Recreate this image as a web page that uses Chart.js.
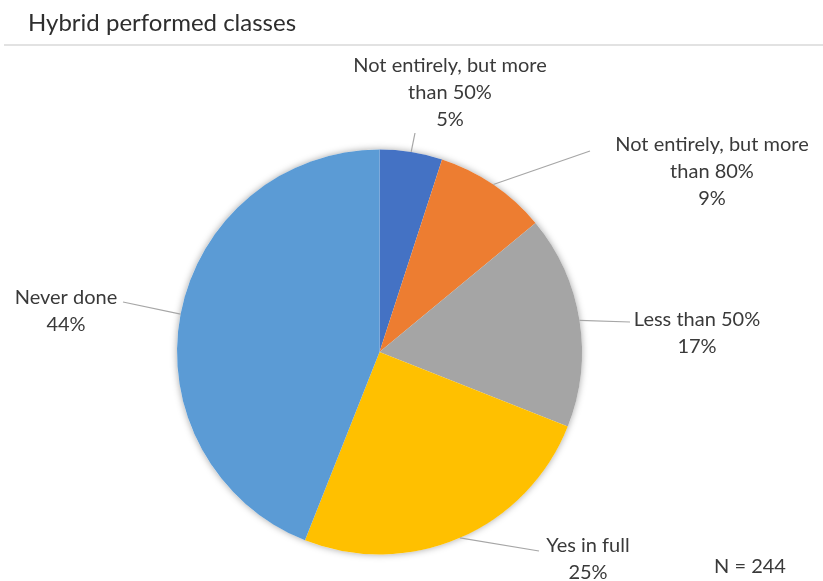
<!DOCTYPE html>
<html>
<head>
<meta charset="utf-8">
<script src="https://cdn.jsdelivr.net/npm/chart.js@4.4.0/dist/chart.umd.min.js"></script>
<style>
  html, body { margin: 0; padding: 0; background: #fff; }
  #wrap { width: 823px; height: 581px; position: relative; }
</style>
</head>
<body>
<div id="wrap"><canvas id="pie"></canvas></div>
<script>
const chartTitle = 'Hybrid performed classes';
const categories = [
    ['Not entirely, but more', 'than 50%'],
    ['Not entirely, but more', 'than 80%'],
    ['Less than 50%'],
    ['Yes in full'],
    ['Never done']
];
const shares = [5, 9, 17, 25, 44];
const sliceColors = ['#4472C4', '#ED7D31', '#A5A5A5', '#FFC000', '#5B9BD5'];
const sampleNote = 'N = 244';

const FONT = 'Lato, "Open Sans", sans-serif';
const TEXT = '#3a3a3a';

// where each label block sits and where its leader line stops
const labelSpots = [
    { x: 450, y: 66, lineTo: [415, 133] },
    { x: 712, y: 145, lineTo: [590, 151] },
    { x: 697, y: 320, lineTo: [630, 322] },
    { x: 588, y: 546, lineTo: [539, 551] },
    { x: 66, y: 298, lineTo: [123, 302] }
];

const decorations = {
    id: 'decorations',
    beforeDatasetsDraw(chart) {
        const ctx = chart.ctx;
        const arc = chart.getDatasetMeta(0).data[0];
        ctx.save();
        ctx.shadowColor = 'rgba(0,0,0,0.35)';
        ctx.shadowBlur = 7;
        ctx.fillStyle = '#fff';
        ctx.beginPath();
        ctx.arc(arc.x, arc.y, arc.outerRadius, 0, Math.PI * 2);
        ctx.fill();
        ctx.restore();
    },
    afterDraw(chart) {
        const ctx = chart.ctx;
        ctx.save();

        // title and rule underneath
        ctx.fillStyle = '#2e2e2e';
        ctx.font = '24px ' + FONT;
        ctx.textBaseline = 'middle';
        ctx.textAlign = 'left';
        ctx.fillText(chartTitle, 28, 23);
        ctx.strokeStyle = '#e2e2e2';
        ctx.lineWidth = 2;
        ctx.beginPath();
        ctx.moveTo(4, 45);
        ctx.lineTo(823, 45);
        ctx.stroke();

        const meta = chart.getDatasetMeta(0);
        meta.data.forEach((el, i) => {
            const spot = labelSpots[i];
            const mid = (el.startAngle + el.endAngle) / 2;
            const ex = el.x + Math.cos(mid) * el.outerRadius;
            const ey = el.y + Math.sin(mid) * el.outerRadius;

            ctx.strokeStyle = '#a6a6a6';
            ctx.lineWidth = 1.2;
            ctx.beginPath();
            ctx.moveTo(ex, ey);
            ctx.lineTo(spot.lineTo[0], spot.lineTo[1]);
            ctx.stroke();

            const lines = categories[i].concat([shares[i] + '%']);
            ctx.fillStyle = TEXT;
            ctx.font = '20px ' + FONT;
            ctx.textAlign = 'center';
            lines.forEach((t, k) => ctx.fillText(t, spot.x, spot.y + k * 27));
        });

        ctx.fillText(sampleNote, 750, 567);
        ctx.restore();
    }
};

new Chart(document.getElementById('pie'), {
    type: 'pie',
    data: {
        labels: categories.map(c => c.join(' ')),
        datasets: [{
            data: shares,
            backgroundColor: sliceColors,
            borderWidth: 0
        }]
    },
    options: {
        responsive: true,
        maintainAspectRatio: false,
        animation: false,
        layout: { padding: { left: 177, right: 241, top: 149, bottom: 26 } },
        plugins: {
            legend: { display: false },
            tooltip: { enabled: false }
        }
    },
    plugins: [decorations]
});
</script>
</body>
</html>
